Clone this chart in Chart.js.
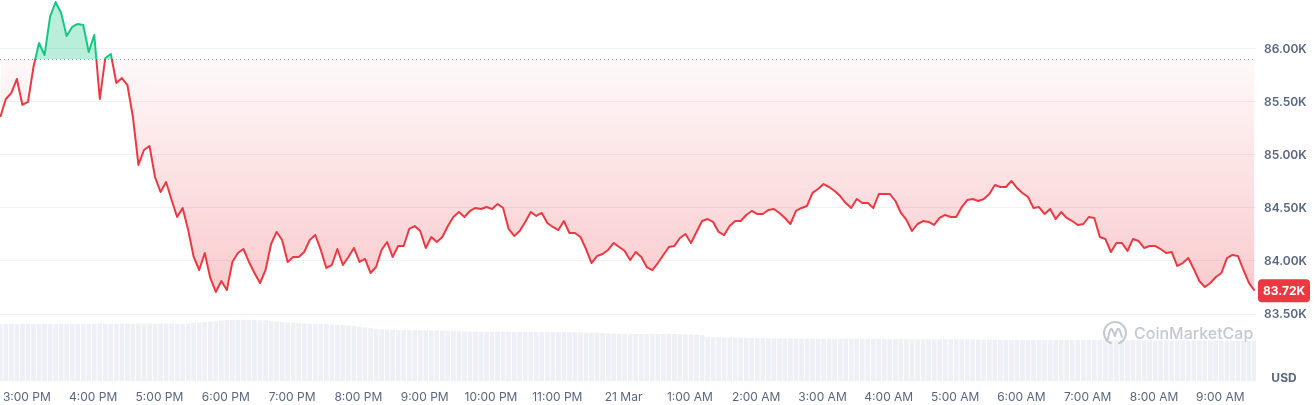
<!DOCTYPE html>
<html>
<head>
<meta charset="utf-8">
<script src="https://cdn.jsdelivr.net/npm/chart.js@4.4.1/dist/chart.umd.min.js"></script>
<style>
  html,body{margin:0;padding:0;background:#fff}
  #wrap{width:1316px;height:405px}
</style>
</head>
<body>
<div id="wrap"><canvas id="chart" width="1316" height="405"></canvas></div>
<script>
// BTC / USD, 5-minute points, first one at 14:36 (minutes are counted from 3:00 PM)
const startMinute = -24
const stepMinutes = 5

const prices = [
  85358,85528,85585,85717,85472,85500,85830,86057,85943,86302,
  86443,86340,86123,86208,86236,86226,85972,86132,85528,85915,
  85953,85679,85726,85660,85358,84906,85047,85085,84792,84651,
  84745,84575,84415,84500,84292,84038,83915,84075,83840,83708,
  83811,83726,83991,84075,84113,83991,83887,83792,83915,84160,
  84274,84198,83991,84038,84038,84085,84198,84245,84104,83934,
  83962,84113,83962,84038,84123,83991,84019,83887,83943,84104,
  84179,84038,84142,84142,84302,84330,84283,84123,84226,84179,
  84226,84330,84415,84462,84415,84472,84500,84491,84509,84491,
  84538,84500,84302,84236,84283,84368,84462,84425,84453,84358,
  84321,84292,84377,84264,84264,84226,84113,83981,84047,84066,
  84104,84170,84132,84094,84009,84085,84038,83943,83915,83981,
  84057,84132,84142,84217,84255,84170,84274,84377,84396,84368,
  84274,84245,84330,84377,84377,84434,84472,84443,84443,84481,
  84491,84453,84406,84349,84472,84500,84519,84642,84679,84726,
  84698,84660,84613,84547,84500,84585,84547,84547,84500,84632,
  84632,84632,84566,84453,84387,84283,84349,84377,84368,84340,
  84406,84434,84415,84415,84509,84575,84585,84566,84585,84632,
  84717,84698,84698,84755,84689,84642,84604,84500,84509,84443,
  84491,84396,84462,84406,84377,84340,84349,84415,84406,84226,
  84208,84085,84170,84170,84094,84208,84189,84123,84142,84142,
  84113,84075,84085,83953,83981,84028,83925,83811,83755,83792,
  83849,83887,84028,84057,84047,83915,83792,83720
]

// rolling 24h volume, billions USD
const volumes = [
  28.4,28.5,28.5,28.4,28.6,28.5,28.4,28.5,28.6,28.5,
  28.4,28.5,28.5,28.6,28.5,28.5,28.4,28.6,28.7,28.6,
  28.5,28.6,28.7,28.6,28.6,28.7,28.8,28.7,28.6,28.7,
  28.8,28.7,28.6,28.5,28.7,
  29.0,29.3,29.5,29.6,29.8,
  30.2,30.4,30.5,30.6,30.5,30.6,30.5,30.4,30.3,
  30.0,29.7,29.5,29.3,29.1,29.0,28.8,
  28.6,28.5,28.4,28.5,28.3,
  28.1,28.0,27.8,27.6,
  27.2,26.8,26.4,26.1,
  25.8,25.7,25.6,25.5,25.5,25.4,25.4,25.3,25.3,25.2,25.2,25.1,25.0,
  24.9,24.8,24.8,24.7,24.7,24.7,24.6,24.6,24.7,24.6,
  24.6,24.5,24.6,24.5,24.5,24.5,24.4,24.5,24.4,24.4,
  24.4,24.3,24.4,24.3,24.2,24.2,24.1,24.0,
  23.8,23.7,23.6,23.6,23.5,23.5,23.5,23.4,23.4,23.5,
  23.4,23.4,23.5,23.4,23.3,23.3,23.2,23.0,
  22.1,21.9,21.9,21.8,21.8,21.7,21.7,21.6,21.6,21.5,
  21.4,21.3,21.3,21.2,21.2,21.3,21.2,21.1,21.2,21.1,
  21.1,21.0,21.1,21.0,21.0,21.1,21.0,21.0,20.9,21.0,
  21.0,20.9,21.0,20.9,20.9,21.0,20.9,20.9,20.8,20.9,
  20.9,20.8,20.8,20.9,20.8,20.8,20.8,20.7,20.8,20.7,
  20.7,20.7,20.6,
  20.6,20.6,20.5,20.6,20.5,20.5,20.6,20.5,20.5,20.4,
  20.5,20.5,20.4,20.5,20.4,20.4,20.5,20.4,20.4,20.4,
  20.3,20.4,20.4,20.3,20.4,20.3,20.3,20.4,20.3,20.3,
  20.3,20.2,20.3,20.3,20.2,20.3,20.2,20.2,20.3,20.2,
  20.2,20.2,20.1,20.2,20.2,20.1,20.2
]

const openPrice = 85906
const lastPrice = 83720
const yTicks = [83500, 84000, 84500, 85000, 85500, 86000]
const xTickLabels = ['3:00 PM','4:00 PM','5:00 PM','6:00 PM','7:00 PM','8:00 PM','9:00 PM','10:00 PM','11:00 PM','21 Mar',
  '1:00 AM','2:00 AM','3:00 AM','4:00 AM','5:00 AM','6:00 AM','7:00 AM','8:00 AM','9:00 AM']

const red = '#ea3943'
const green = '#16c784'
const grey = '#58667e'

const pricePoints = prices.map((p,i)=>({x:startMinute + i*stepMinutes, y:p}))
const volumePoints = volumes.map((v,i)=>({x:startMinute + i*stepMinutes, y:v}))

// line is green above the open price, red below
function lineColor(context){
  const {ctx, chartArea, scales} = context.chart
  if(!chartArea) return red
  const by = scales.y.getPixelForValue(openPrice)
  const stop = Math.min(1, Math.max(0, (by - chartArea.top) / (chartArea.bottom - chartArea.top)))
  const g = ctx.createLinearGradient(0, chartArea.top, 0, chartArea.bottom)
  g.addColorStop(0, green); g.addColorStop(stop, green)
  g.addColorStop(stop, red); g.addColorStop(1, red)
  return g
}

function fillSpec(context){
  const {ctx, chartArea, scales} = context.chart
  const above = 'rgba(22,199,132,0.3)'
  if(!chartArea) return {target:{value:openPrice}, above, below:'rgba(234,57,67,0.15)'}
  const by = scales.y.getPixelForValue(openPrice)
  const g = ctx.createLinearGradient(0, by, 0, chartArea.bottom)
  g.addColorStop(0, 'rgba(234,57,67,0.03)')
  g.addColorStop(0.75, 'rgba(234,57,67,0.27)')
  g.addColorStop(1, 'rgba(234,57,67,0.33)')
  return {target:{value:openPrice}, above, below:g}
}

function roundRect(ctx, x, y, w, h, r){
  ctx.beginPath()
  ctx.moveTo(x+r, y)
  ctx.arcTo(x+w, y, x+w, y+h, r)
  ctx.arcTo(x+w, y+h, x, y+h, r)
  ctx.arcTo(x, y+h, x, y, r)
  ctx.arcTo(x, y, x+w, y, r)
  ctx.closePath()
}

const overlay = {
  id:'overlay',
  beforeDatasetsDraw(chart){
    const {ctx, chartArea:a, scales:{y}} = chart
    const by = Math.round(y.getPixelForValue(openPrice)) + 0.5
    ctx.save()
    ctx.strokeStyle = '#9aa3b2'
    ctx.lineWidth = 1
    ctx.setLineDash([1, 3])
    ctx.beginPath(); ctx.moveTo(a.left, by); ctx.lineTo(a.right, by); ctx.stroke()
    ctx.restore()
  },
  afterDatasetsDraw(chart){
    const {ctx, chartArea:a} = chart
    // watermark
    const cx = a.right - 141, cy = a.bottom - 48
    ctx.save()
    ctx.strokeStyle = '#c3c9d2'
    ctx.lineWidth = 2
    ctx.lineJoin = 'round'; ctx.lineCap = 'round'
    ctx.beginPath(); ctx.arc(cx, cy, 11, Math.PI*0.62, Math.PI*2.38); ctx.stroke()
    ctx.beginPath()
    ctx.moveTo(cx-7, cy+6)
    ctx.quadraticCurveTo(cx-5, cy-7, cx-2.5, cy-3)
    ctx.lineTo(cx, cy+3)
    ctx.quadraticCurveTo(cx+3, cy-8, cx+5, cy-2)
    ctx.lineTo(cx+7, cy+4)
    ctx.stroke()
    ctx.fillStyle = '#c3c9d2'
    ctx.font = '500 16px Inter'
    ctx.textAlign = 'left'; ctx.textBaseline = 'middle'
    ctx.fillText('CoinMarketCap', a.right - 122, cy + 1)
    ctx.restore()
  },
  afterDraw(chart){
    const {ctx, chartArea:a, scales:{y}} = chart
    const py = y.getPixelForValue(lastPrice)
    ctx.save()
    ctx.fillStyle = red
    roundRect(ctx, a.right + 2, py - 11.5, 52, 23, 4)
    ctx.fill()
    ctx.fillStyle = '#fff'
    ctx.font = '700 12px Inter'
    ctx.textAlign = 'left'; ctx.textBaseline = 'middle'
    ctx.fillText((lastPrice/1000).toFixed(2) + 'K', a.right + 7, py + 0.5)
    ctx.fillStyle = grey
    ctx.textAlign = 'center'
    ctx.fillText('USD', a.right + 28, a.bottom - 3)
    ctx.restore()
  }
}

const chart = new Chart(document.getElementById('chart'), {
  type:'line',
  data:{
    datasets:[
      {type:'line', data:pricePoints, yAxisID:'y', order:1, borderWidth:2, pointRadius:0,
        borderColor:lineColor, fill:fillSpec, tension:0, borderJoinStyle:'round'},
      {type:'bar', data:volumePoints, yAxisID:'vol', order:2, backgroundColor:'#edf0f4',
        barPercentage:0.85, categoryPercentage:1}
    ]
  },
  options:{
    responsive:false,
    animation:false,
    devicePixelRatio:1,
    layout:{padding:0},
    plugins:{legend:{display:false}, tooltip:{enabled:false}},
    scales:{
      x:{
        type:'linear', offset:false, min:-24.3, max:1112.3,
        afterBuildTicks: s => { s.ticks = xTickLabels.map((_,i)=>({value:i*60})) },
        afterFit: s => { s.height = 24; s.paddingLeft = 0; s.paddingRight = 0 },
        grid:{display:false, drawTicks:false},
        border:{display:false},
        ticks:{padding:9, autoSkip:false, maxRotation:0, color:grey,
          font:{family:'Inter', size:12}, callback:(v,i)=>xTickLabels[i]}
      },
      y:{
        position:'right', min:82868, max:86462,
        afterBuildTicks: s => { s.ticks = yTicks.map(v=>({value:v})) },
        afterFit: s => { s.width = 60; s.paddingTop = 0; s.paddingBottom = 0 },
        grid:{color:'#eff1f4', drawTicks:false},
        border:{display:false},
        ticks:{padding:8, color:grey, font:{family:'Inter', size:12, weight:'600'},
          callback: v => (v/1000).toFixed(2) + 'K'}
      },
      vol:{display:false, min:0, max:190.5}
    }
  },
  plugins:[overlay]
})
</script>
</body>
</html>
